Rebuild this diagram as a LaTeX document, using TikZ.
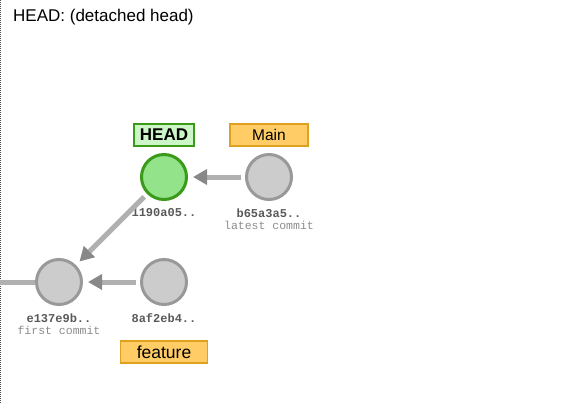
\documentclass[tikz,border=0pt]{standalone}
\usepackage{fontspec}
\setmainfont{Liberation Sans}
\newfontfamily\monof{Liberation Mono}
\usetikzlibrary{arrows.meta}
\definecolor{cgray}{HTML}{CCCCCC}
\definecolor{cgraydraw}{HTML}{999999}
\definecolor{hgreen}{HTML}{92E38A}
\definecolor{hgreendraw}{HTML}{3A9A1A}
\definecolor{hboxfill}{HTML}{CCF5C8}
\definecolor{orfill}{HTML}{FFCC66}
\definecolor{ordraw}{HTML}{E0A020}
\definecolor{shaft}{HTML}{B0B0B0}
\definecolor{headc}{HTML}{888888}
\tikzset{
  commit/.style={circle, minimum size=45pt, inner sep=0pt, line width=3pt, draw=cgraydraw, fill=cgray},
  headcommit/.style={commit, draw=hgreendraw, fill=hgreen},
  branchbox/.style={draw=ordraw, fill=orfill, line width=1.5pt, minimum height=22pt, inner sep=0pt},
  headbox/.style={draw=hgreendraw, fill=hboxfill, line width=1.5pt, minimum height=22pt, inner sep=0pt, font=\bfseries\fontsize{17}{17}\selectfont},
  sha/.style={font=\monof\bfseries\fontsize{12}{12}\selectfont, text=black!65},
  note/.style={font=\monof\fontsize{11.5}{11.5}\selectfont, text=black!45},
  link/.style={draw=shaft, line width=5pt, -{Triangle[length=14pt,width=15pt,color=headc]}, shorten >=5pt, shorten <=4pt},
}
\begin{document}
\begin{tikzpicture}[x=1pt,y=-1pt]
\useasboundingbox (0,0) rectangle (584,404);
\draw[dash pattern=on 1pt off 1pt, black!70, line width=0.8pt] (0.5,0) -- (0.5,404);
\node[anchor=base west, font=\fontsize{17}{17}\selectfont, inner sep=0pt] (title) at (13,22) {HEAD: (detached head)};

\node[headcommit] (c1) at (164,177) {};
\node[commit] (c2) at (269,177) {};
\node[commit] (c0) at (59,282) {};
\node[commit] (c3) at (164,282) {};
\coordinate (left) at (0,282);

\node[headbox, minimum width=60pt] (hb) at (164,135) {HEAD};
\node[branchbox, minimum width=78pt, font=\fontsize{15.5}{15.5}\selectfont] (mb) at (269,135) {Main};
\node[branchbox, minimum width=87pt, font=\fontsize{17.5}{17.5}\selectfont] (fb) at (164,352) {feature};

\node[sha] (l1) at (164,213) {1190a05..};
\node[sha] (l2) at (269,213) {b65a3a5..};
\node[note] (n2) at (269,225) {latest commit};
\node[sha] (l0) at (59,318) {e137e9b..};
\node[note] (n0) at (59,330) {first commit};
\node[sha] (l3) at (164,318) {8af2eb4..};

\draw[draw=shaft, line width=5pt] (left) -- (c0.west);
\draw[link] (c2) -- (c1);
\draw[link] (c3) -- (c0);
\draw[link] (c1) -- (c0);
\end{tikzpicture}
\end{document}
